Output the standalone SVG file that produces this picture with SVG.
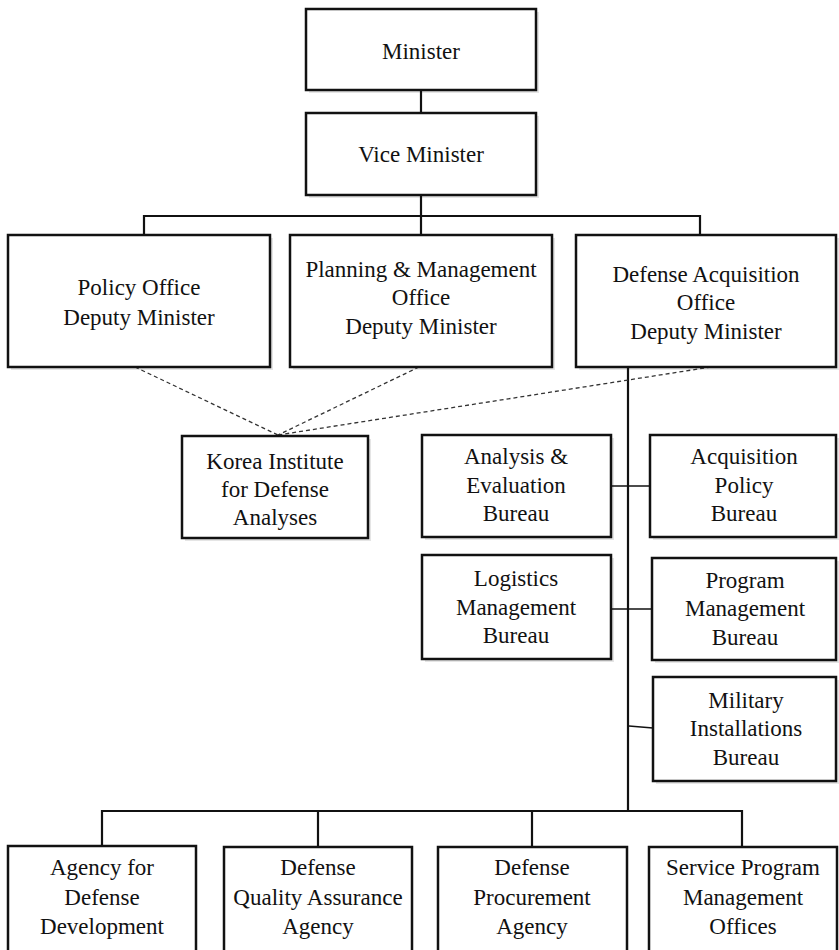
<svg xmlns="http://www.w3.org/2000/svg" width="839" height="950" viewBox="0 0 839 950">
<style>
svg text, svg g text, #nodes text { font-family: "Liberation Serif", serif !important; }
</style>
<rect width="839" height="950" fill="#fff"/>
<g id="shadows" fill="#000" fill-opacity="0.1" stroke="none">
<rect x="309" y="12" width="230" height="81"/>
<rect x="309" y="116" width="230" height="82"/>
<rect x="11" y="238" width="262" height="132"/>
<rect x="293" y="238" width="262" height="132"/>
<rect x="579" y="238" width="260" height="132"/>
<rect x="185" y="439" width="186" height="102"/>
<rect x="425" y="438" width="189" height="102"/>
<rect x="653" y="438" width="186" height="102"/>
<rect x="425" y="558" width="189" height="104"/>
<rect x="655" y="561" width="184" height="102"/>
<rect x="656" y="680" width="183" height="104"/>
</g>
<g id="connectors" stroke="#111" fill="none">
<g stroke-width="2.2">
<line x1="421" y1="90" x2="421" y2="113"/>
<line x1="421" y1="195" x2="421" y2="235"/>
<polyline points="144,235 144,216 700,216 700,235"/>
<line x1="628" y1="367" x2="628" y2="811"/>
<polyline points="102,846 102,811 742,811 742,846"/>
<line x1="318" y1="811" x2="318" y2="846"/>
<line x1="532" y1="811" x2="532" y2="846"/>
</g>
<g stroke-width="1.5">
<line x1="611" y1="486" x2="650" y2="486"/>
<line x1="611" y1="609" x2="652" y2="609"/>
<line x1="629" y1="726" x2="653" y2="728"/>
</g>
<g stroke="#333" stroke-width="1.3" stroke-dasharray="4 3">
<line x1="135" y1="367" x2="278" y2="435"/>
<line x1="419" y1="367" x2="278" y2="435"/>
<line x1="711" y1="367" x2="278" y2="435"/>
</g>
</g>
<g id="nodes" fill="#fff" stroke="#111" stroke-width="2.5">
<g id="minister"><rect x="306" y="9" width="230" height="81"/><text font-family="Liberation Serif" font-size="23" text-anchor="middle" fill="#111" stroke="none" x="421" y="59">Minister</text></g>
<g id="vice-minister"><rect x="306" y="113" width="230" height="82"/><text font-family="Liberation Serif" font-size="23" text-anchor="middle" fill="#111" stroke="none" x="421" y="162">Vice Minister</text></g>
<g id="policy-office"><rect x="8" y="235" width="262" height="132"/><text font-family="Liberation Serif" font-size="23" text-anchor="middle" fill="#111" stroke="none" x="139" y="295">Policy Office</text><text font-family="Liberation Serif" font-size="23" text-anchor="middle" fill="#111" stroke="none" x="139" y="325">Deputy Minister</text></g>
<g id="planning-office"><rect x="290" y="235" width="262" height="132"/><text font-family="Liberation Serif" font-size="23" text-anchor="middle" fill="#111" stroke="none" x="421" y="277">Planning &amp; Management</text><text font-family="Liberation Serif" font-size="23" text-anchor="middle" fill="#111" stroke="none" x="421" y="305">Office</text><text font-family="Liberation Serif" font-size="23" text-anchor="middle" fill="#111" stroke="none" x="421" y="334">Deputy Minister</text></g>
<g id="acquisition-office"><rect x="576" y="235" width="260" height="132"/><text font-family="Liberation Serif" font-size="23" text-anchor="middle" fill="#111" stroke="none" x="706" y="282">Defense Acquisition</text><text font-family="Liberation Serif" font-size="23" text-anchor="middle" fill="#111" stroke="none" x="706" y="310">Office</text><text font-family="Liberation Serif" font-size="23" text-anchor="middle" fill="#111" stroke="none" x="706" y="339">Deputy Minister</text></g>
<g id="kida"><rect x="182" y="436" width="186" height="102"/><text font-family="Liberation Serif" font-size="23" text-anchor="middle" fill="#111" stroke="none" x="275" y="469">Korea Institute</text><text font-family="Liberation Serif" font-size="23" text-anchor="middle" fill="#111" stroke="none" x="275" y="497">for Defense</text><text font-family="Liberation Serif" font-size="23" text-anchor="middle" fill="#111" stroke="none" x="275" y="525">Analyses</text></g>
<g id="analysis-bureau"><rect x="422" y="435" width="189" height="102"/><text font-family="Liberation Serif" font-size="23" text-anchor="middle" fill="#111" stroke="none" x="516" y="464">Analysis &amp;</text><text font-family="Liberation Serif" font-size="23" text-anchor="middle" fill="#111" stroke="none" x="516" y="493">Evaluation</text><text font-family="Liberation Serif" font-size="23" text-anchor="middle" fill="#111" stroke="none" x="516" y="521">Bureau</text></g>
<g id="acq-policy-bureau"><rect x="650" y="435" width="186" height="102"/><text font-family="Liberation Serif" font-size="23" text-anchor="middle" fill="#111" stroke="none" x="744" y="464">Acquisition</text><text font-family="Liberation Serif" font-size="23" text-anchor="middle" fill="#111" stroke="none" x="744" y="493">Policy</text><text font-family="Liberation Serif" font-size="23" text-anchor="middle" fill="#111" stroke="none" x="744" y="521">Bureau</text></g>
<g id="logistics-bureau"><rect x="422" y="555" width="189" height="104"/><text font-family="Liberation Serif" font-size="23" text-anchor="middle" fill="#111" stroke="none" x="516" y="586">Logistics</text><text font-family="Liberation Serif" font-size="23" text-anchor="middle" fill="#111" stroke="none" x="516" y="615">Management</text><text font-family="Liberation Serif" font-size="23" text-anchor="middle" fill="#111" stroke="none" x="516" y="643">Bureau</text></g>
<g id="program-bureau"><rect x="652" y="558" width="184" height="102"/><text font-family="Liberation Serif" font-size="23" text-anchor="middle" fill="#111" stroke="none" x="745" y="588">Program</text><text font-family="Liberation Serif" font-size="23" text-anchor="middle" fill="#111" stroke="none" x="745" y="616">Management</text><text font-family="Liberation Serif" font-size="23" text-anchor="middle" fill="#111" stroke="none" x="745" y="645">Bureau</text></g>
<g id="installations-bureau"><rect x="653" y="677" width="183" height="104"/><text font-family="Liberation Serif" font-size="23" text-anchor="middle" fill="#111" stroke="none" x="746" y="708">Military</text><text font-family="Liberation Serif" font-size="23" text-anchor="middle" fill="#111" stroke="none" x="746" y="736">Installations</text><text font-family="Liberation Serif" font-size="23" text-anchor="middle" fill="#111" stroke="none" x="746" y="765">Bureau</text></g>
<g id="add"><rect x="8" y="846" width="188" height="115"/><text font-family="Liberation Serif" font-size="23" text-anchor="middle" fill="#111" stroke="none" x="102" y="875">Agency for</text><text font-family="Liberation Serif" font-size="23" text-anchor="middle" fill="#111" stroke="none" x="102" y="905">Defense</text><text font-family="Liberation Serif" font-size="23" text-anchor="middle" fill="#111" stroke="none" x="102" y="934">Development</text></g>
<g id="dqaa"><rect x="224" y="847" width="188" height="115"/><text font-family="Liberation Serif" font-size="23" text-anchor="middle" fill="#111" stroke="none" x="318" y="875">Defense</text><text font-family="Liberation Serif" font-size="23" text-anchor="middle" fill="#111" stroke="none" x="318" y="905">Quality Assurance</text><text font-family="Liberation Serif" font-size="23" text-anchor="middle" fill="#111" stroke="none" x="318" y="934">Agency</text></g>
<g id="dpa"><rect x="438" y="847" width="189" height="115"/><text font-family="Liberation Serif" font-size="23" text-anchor="middle" fill="#111" stroke="none" x="532" y="875">Defense</text><text font-family="Liberation Serif" font-size="23" text-anchor="middle" fill="#111" stroke="none" x="532" y="905">Procurement</text><text font-family="Liberation Serif" font-size="23" text-anchor="middle" fill="#111" stroke="none" x="532" y="934">Agency</text></g>
<g id="spmo"><rect x="649" y="847" width="188" height="115"/><text font-family="Liberation Serif" font-size="23" text-anchor="middle" fill="#111" stroke="none" x="743" y="875">Service Program</text><text font-family="Liberation Serif" font-size="23" text-anchor="middle" fill="#111" stroke="none" x="743" y="905">Management</text><text font-family="Liberation Serif" font-size="23" text-anchor="middle" fill="#111" stroke="none" x="743" y="934">Offices</text></g>
</g>
</svg>
